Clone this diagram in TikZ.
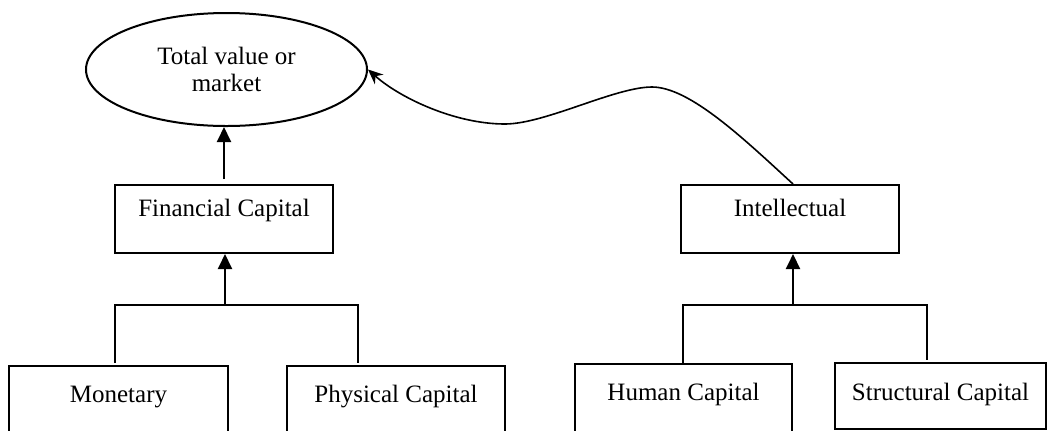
\documentclass[tikz,border=0pt]{standalone}
\usepackage{fontspec}
\setmainfont{Liberation Serif}
\usetikzlibrary{arrows.meta,shapes.geometric}
\begin{document}
\begin{tikzpicture}[x=0.5pt, y=-0.5pt, line width=1pt,
    font=\fontsize{12.5}{13.5}\selectfont,
    capbox/.style={draw, rectangle, inner sep=0pt, minimum width=#1,
      text height=15.5pt, text depth=18.5pt, anchor=north},
    uparrow/.style={-{Triangle[width=7pt,length=7.5pt]}}]
      \clip (0,0) rectangle (1047,430);
      \node[draw, ellipse, minimum width=140.5pt, minimum height=56.5pt, align=center]
        (total) at (226.5,69.5) {Total value or\\market};
      \node[capbox=109pt] (fin) at (224,184) {Financial Capital};
      \node[capbox=109pt] (intel) at (790,184) {Intellectual};
      \node[capbox=109.5pt, text height=18pt, text depth=27pt] (mon) at (118.5,365) {Monetary};
      \node[capbox=109pt, text height=18pt, text depth=27pt] (phys) at (396,365) {Physical Capital};
      \node[capbox=108.5pt, text height=18pt, text depth=27pt] (human) at (683.5,363) {Human Capital};
      \node[capbox=105.5pt, text height=18.5pt, text depth=14.5pt] (struct) at (940.5,362) {Structural Capital};
      \coordinate (fj) at (225,305);
      \coordinate (fl) at (115,363);
      \coordinate (fr) at (358,363);
      \coordinate (ij) at (793,305);
      \coordinate (il) at (683,363);
      \coordinate (ir) at (927,360);
      \draw[uparrow, shorten <=2.5pt] (fin.north) -- (fin.north |- total.south);
      \draw[uparrow] (fj) -- (fj |- fin.south);
      \draw (fl) |- (fj) -| (fr);
      \draw[uparrow] (ij) -- (ij |- intel.south);
      \draw (il) |- (ij) -| (ir);
      \draw[line width=0.8pt, -{Stealth[length=7.5pt,width=6.5pt,inset=2.5pt]}] ([xshift=1.5pt]intel.north)
        .. controls (745,140) and (690,87) .. (652,87)
        .. controls (615,87) and (545,124) .. (505,124)
        .. controls (455,124) and (400,98) .. (total.east);
    \end{tikzpicture}
\end{document}
